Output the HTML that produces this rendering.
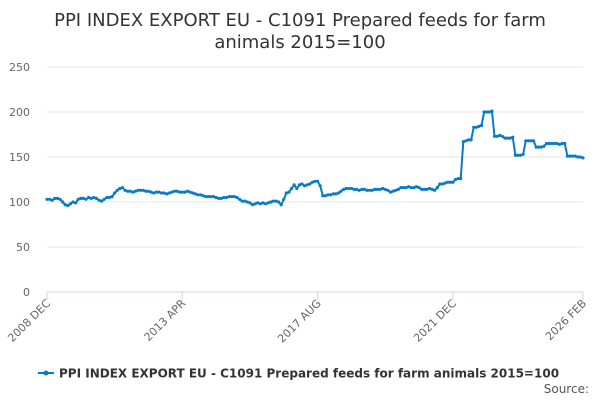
<!DOCTYPE html>
<html><head><meta charset="utf-8"><style>
body{margin:0;background:#fff;font-family:"DejaVu Sans",sans-serif}
</style></head><body>
<svg width="600" height="400" xmlns="http://www.w3.org/2000/svg" id="svg" font-family="DejaVu Sans, sans-serif">
<text x="300" y="26" text-anchor="middle" font-size="18" fill="#333">PPI INDEX EXPORT EU - C1091 Prepared feeds for farm</text>
<text x="300" y="48" text-anchor="middle" font-size="18" fill="#333">animals 2015=100</text>
<g id="grid"></g><g id="xax"></g><g id="series"></g>
<g>
<line x1="38" y1="373" x2="54" y2="373" stroke="#0a7bc2" stroke-width="2"/>
<circle cx="46" cy="373" r="2.5" fill="#0a7bc2"/>
<text x="59" y="377.5" font-size="12" font-weight="bold" fill="#333">PPI INDEX EXPORT EU - C1091 Prepared feeds for farm animals 2015=100</text>
</g>
<text x="589" y="393" text-anchor="end" font-size="12" fill="#555">Source:</text>
</svg>
<script>
const values=[103,103,102,104,104,103,100,97,96,98,100,99,
103,104,104,103,105,104,105,104,102,101,103,105,
105,106,110,113,115,116,113,112,112,111,112,113,
113,113,112,112,111,110,111,111,110,110,109,110,
111,112,112,111,111,111,112,111,110,109,108,108,
107,106,106,106,106,105,104,104,105,105,106,106,
106,105,103,101,101,100,99,97,98,99,98,99,
98,99,100,101,101,100,97,103,110,111,115,119,
115,119,120,118,119,120,122,123,123,118,107,107,
108,108,109,109,110,112,114,115,115,115,114,114,
113,114,114,113,113,113,114,114,114,115,114,113,
111,112,113,114,116,116,116,117,116,116,117,116,
114,114,114,115,114,113,116,120,120,121,122,122,
122,125,126,126,167,168,169,169,183,183,184,185,
200,200,200,201,173,173,174,173,171,171,171,172,
152,152,152,153,168,168,168,168,161,161,161,162,
165,165,165,165,165,164,165,165,151,151,151,151,
150,150,149];
const yTicks=[0,50,100,150,200,250];
const xLabels=["2008 DEC","2013 APR","2017 AUG","2021 DEC","2026 FEB"];
const xLabelIdx=[0,52,104,156,206];
const NS="http://www.w3.org/2000/svg";
const x0=47,x1=583,y0=292,y1=67;
const xs=i=>x0+i*(x1-x0)/(values.length-1);
const ys=v=>y0-(v/250)*(y0-y1);
function mk(t,a,p){const e=document.createElementNS(NS,t);for(const k in a)e.setAttribute(k,a[k]);p.appendChild(e);return e;}
const grid=document.getElementById('grid');
yTicks.forEach(t=>{
 const l=mk('line',{x1:x0,x2:x1,y1:ys(t),y2:ys(t),stroke:t===0?'#ccd6eb':'#e6e6e6','stroke-width':1},grid);
 
 
 const tx=mk('text',{x:30,y:ys(t)+4,'text-anchor':'end','font-size':11,fill:'#666'},grid);
 tx.textContent=t;
 
 
});
const xax=document.getElementById('xax');
xLabels.forEach((s,k)=>{
 const x=xs(xLabelIdx[k]);
 const tk=mk('line',{x1:x,x2:x,y1:y0,y2:y0+8,stroke:'#ccd6eb'},xax);
 
 
 const tx=mk('text',{x:x+4,y:y0+12,'text-anchor':'end','font-size':11,fill:'#666',transform:`rotate(-45 ${x+4} ${y0+12})`},xax);
 tx.textContent=s;
 
 
});
const ser=document.getElementById('series');
const path=mk('path',{d:values.map((v,i)=>(i?'L':'M')+xs(i).toFixed(2)+' '+ys(v).toFixed(2)).join(''),fill:'none',stroke:'#0a7bc2','stroke-width':2},ser);


values.forEach((v,i)=>{
 const c=mk('circle',{cx:xs(i),cy:ys(v),r:1.6,fill:'#0a7bc2'},ser);
 
 
});
</script>
</body></html>
